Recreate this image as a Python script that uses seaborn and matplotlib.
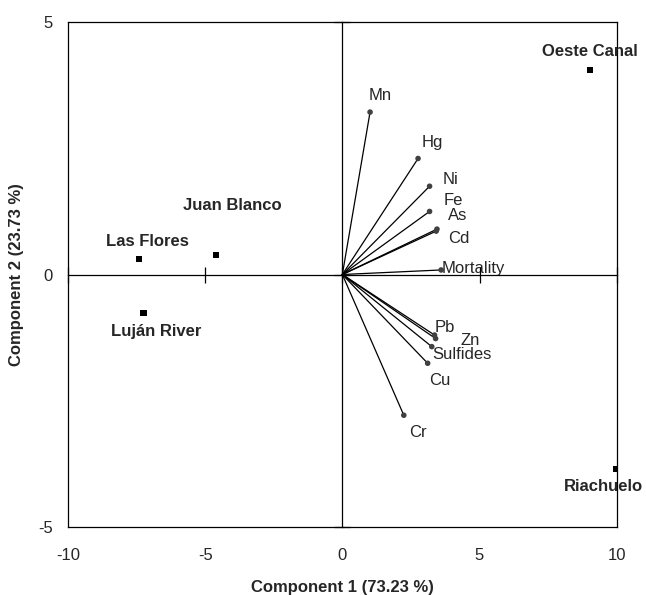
import matplotlib
matplotlib.use('Agg')
import matplotlib.pyplot as plt
import seaborn as sns
import pandas as pd

# sampling sites (scores)
sites = ['Las Flores', 'Juan Blanco', 'Luján River', 'Oeste Canal', 'Riachuelo']
site_x = [-7.40, -4.61, -7.25, 9.04, 9.97]
site_y = [0.31, 0.39, -0.76, 4.06, -3.86]

# variables (loadings)
variables = ['Mn', 'Hg', 'Ni', 'Fe', 'As', 'Cd', 'Mortality', 'Pb', 'Zn', 'Sulfides', 'Cu', 'Cr']
var_x = [1.01, 2.76, 3.18, 3.18, 3.45, 3.42, 3.60, 3.36, 3.40, 3.26, 3.11, 2.24]
var_y = [3.22, 2.30, 1.75, 1.25, 0.90, 0.86, 0.09, -1.20, -1.27, -1.43, -1.76, -2.79]

x_ticks = [-10, -5, 0, 5, 10]
y_ticks = [-5, 0, 5]
x_title = 'Component 1 (73.23 %)'
y_title = 'Component 2 (23.73 %)'

# label offsets in pixels (label centre relative to the point)
site_off = {'Las Flores': (8, 17), 'Juan Blanco': (16, 49), 'Luján River': (13, -19),
            'Oeste Canal': (0, 18), 'Riachuelo': (-12, -17)}
var_off = {'Mn': (10, 17), 'Hg': (14, 16), 'Ni': (21, 7), 'Fe': (24, 11), 'As': (21, 14),
           'Cd': (23, -7), 'Mortality': (32, 1), 'Pb': (10, 8), 'Zn': (35, -2),
           'Sulfides': (30, -8), 'Cu': (12, -17), 'Cr': (14, -17)}

sites_df = pd.DataFrame({'site': sites, 'x': site_x, 'y': site_y})
vars_df = pd.DataFrame({'var': variables, 'x': var_x, 'y': var_y})

sns.set_style('white')
plt.rcParams['font.family'] = ['Liberation Sans', 'DejaVu Sans']
plt.rcParams['axes.unicode_minus'] = False

fig = plt.figure(figsize=(6.46, 5.95), dpi=100)
ax = fig.add_axes([0.1053, 0.1148, 0.8493, 0.8477])

# vectors from the origin
for _, r in vars_df.iterrows():
    ax.plot([0, r['x']], [0, r['y']], color='black', lw=0.9, zorder=2)
sns.scatterplot(data=vars_df, x='x', y='y', ax=ax, color='#404040', s=16,
                edgecolor='none', zorder=3)
sns.scatterplot(data=sites_df, x='x', y='y', ax=ax, color='black', marker='s', s=20,
                edgecolor='none', zorder=3)

for _, r in vars_df.iterrows():
    ax.annotate(r['var'], (r['x'], r['y']), xytext=var_off[r['var']],
                textcoords='offset pixels', ha='center', va='center', fontsize=12)
for _, r in sites_df.iterrows():
    ax.annotate(r['site'], (r['x'], r['y']), xytext=site_off[r['site']],
                textcoords='offset pixels', ha='center', va='center', fontsize=12,
                fontweight='bold')

ax.set_xlim(-10, 10)
ax.set_ylim(-5, 5)
ax.set_xticks(x_ticks)
ax.set_yticks(y_ticks)
ax.tick_params(length=0, labelsize=12)
ax.tick_params(axis='x', pad=15)
ax.tick_params(axis='y', pad=11)
for s in ax.spines.values():
    s.set_color('black')
    s.set_linewidth(0.9)
ax.set_xlabel(x_title, fontsize=12, fontweight='bold', va='center')
ax.set_ylabel(y_title, fontsize=12, fontweight='bold', va='center')
ax.xaxis.set_label_coords(0.5, -0.12)
ax.yaxis.set_label_coords(-0.093, 0.5)

# axes crossing at the origin
ax2 = fig.add_axes(ax.get_position(), sharex=ax, sharey=ax)
ax2.patch.set_visible(False)
ax2.spines['top'].set_visible(False)
ax2.spines['right'].set_visible(False)
ax2.spines['left'].set_position(('data', 0))
ax2.spines['bottom'].set_position(('data', 0))
for s in ['left', 'bottom']:
    ax2.spines[s].set_color('black')
    ax2.spines[s].set_linewidth(0.9)
ax2.tick_params(bottom=True, left=True, direction='inout', length=11, width=0.9,
                color='black', labelbottom=False, labelleft=False)
ax2.set_xlabel('')
ax2.set_ylabel('')

fig.savefig('out.png', dpi=100)
